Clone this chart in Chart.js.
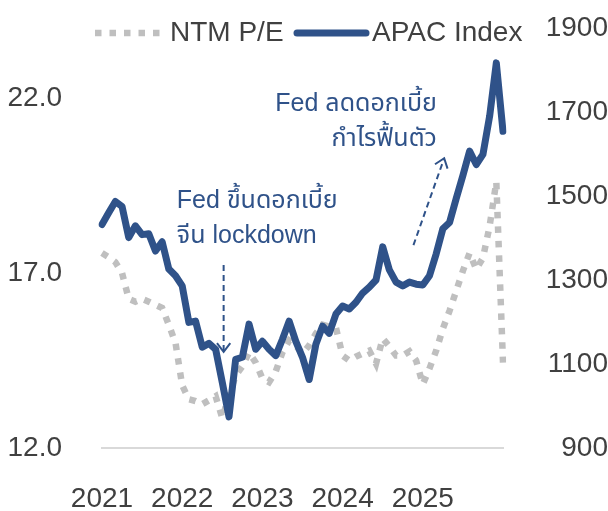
<!DOCTYPE html>
<html>
<head>
<meta charset="utf-8">
<script src="https://cdn.jsdelivr.net/npm/chart.js@4.4.1/dist/chart.umd.min.js"></script>
<style>
  html, body { margin: 0; padding: 0; background: #fff; }
  #wrap { width: 608px; height: 511px; position: relative; }
</style>
</head>
<body>
<div id="wrap"><canvas id="chart"></canvas></div>
<script>
// Monthly points, Jan 2021 .. Jan 2026
var years = [2021, 2022, 2023, 2024, 2025, 2026];
var yearTicks = ['2021', '2022', '2023', '2024', '2025'];
var months = [];
years.forEach(function(yr) {
    for (var m = 1; m <= 12; m++) {
        if (yr === 2026 && m > 1) break;
        months.push(yr + '-' + (m < 10 ? '0' + m : m));
    }
});

// NTM P/E (left axis)
var ntmPE = [17.57, 17.45, 17.31, 17.0, 16.26, 16.18, 16.26, 16.18, 16.09, 16.0, 15.52, 15.0,
             13.79, 13.39, 13.34, 13.25, 13.36, 13.48, 12.85, 13.5, 14.07, 14.33, 14.73, 14.44,
             13.99, 13.88, 14.19, 14.73, 15.07, 14.93, 14.70, 14.93, 15.27, 15.52, 15.47, 15.44,
             14.64, 14.5, 14.61, 14.70, 14.78, 14.41, 15.13, 14.90, 14.64, 14.64, 14.76, 14.5,
             13.82, 14.27, 14.78, 15.41, 15.92, 16.49, 17.06, 17.57, 17.11, 17.43, 18.34, 19.61,
             14.44];

// APAC Index (right axis)
var apacIndex = [1432, 1460, 1487, 1475, 1401, 1429, 1408, 1410, 1369, 1391, 1326, 1310,
                 1286, 1199, 1202, 1140, 1149, 1135, 1056, 974, 1111, 1116, 1195, 1135,
                 1154, 1135, 1120, 1159, 1202, 1154, 1116, 1063, 1147, 1190, 1173, 1219,
                 1238, 1231, 1247, 1269, 1283, 1300, 1379, 1324, 1295, 1286, 1295, 1290,
                 1288, 1310, 1362, 1422, 1437, 1494, 1549, 1607, 1575, 1599, 1690, 1817,
                 1654];

var leftTicks = [12, 17, 22];
var rightTicks = [900, 1100, 1300, 1500, 1700, 1900];

var BLUE = '#2F5289';
var GREY = '#BFBFBF';
var TEXT = '#404040';
var FONT = "'Liberation Sans', Arial, sans-serif";
var THAI_FONT = "'Liberation Sans', Arial, 'Noto Sans Thai', Tahoma, sans-serif";
var DOTS = [6.5, 8];

// notes: [index, apac value, text lines, align]
var notes = [
    { at: 11.2, val: 1488, lines: ['Fed ขึ้นดอกเบี้ย', 'จีน lockdown'], align: 'left' },
    { at: 50.1, val: 1719, lines: ['Fed ลดดอกเบี้ย', 'กำไรฟื้นตัว'], align: 'right' }
];
var arrows = [
    { from: [18.2, 1336], to: [18.2, 1129] },
    { from: [46.6, 1383], to: [51.2, 1590] }
];

function drawArrow(ctx, x0, y0, x1, y1) {
    ctx.save();
    ctx.strokeStyle = BLUE;
    ctx.lineWidth = 2;
    ctx.setLineDash([6, 4]);
    ctx.beginPath();
    ctx.moveTo(x0, y0);
    ctx.lineTo(x1, y1);
    ctx.stroke();
    ctx.setLineDash([]);
    var a = Math.atan2(y1 - y0, x1 - x0);
    var L = 11, w = 0.65;
    ctx.beginPath();
    ctx.moveTo(x1 - L * Math.cos(a - w), y1 - L * Math.sin(a - w));
    ctx.lineTo(x1, y1);
    ctx.lineTo(x1 - L * Math.cos(a + w), y1 - L * Math.sin(a + w));
    ctx.stroke();
    ctx.restore();
}

var overlay = {
    id: 'overlay',
    afterDraw: function(chart) {
        var ctx = chart.ctx;
        var xs = chart.scales.x, ys = chart.scales.y1;

        // legend
        ctx.save();
        ctx.lineWidth = 6.5;
        ctx.strokeStyle = GREY;
        ctx.setLineDash(DOTS);
        ctx.beginPath(); ctx.moveTo(95, 33); ctx.lineTo(161, 33); ctx.stroke();
        ctx.setLineDash([]);
        ctx.lineWidth = 7;
        ctx.strokeStyle = BLUE;
        ctx.lineCap = 'round';
        ctx.beginPath(); ctx.moveTo(297, 33); ctx.lineTo(366, 33); ctx.stroke();
        ctx.fillStyle = TEXT;
        ctx.font = '28px ' + FONT;
        ctx.textBaseline = 'middle';
        ctx.textAlign = 'left';
        ctx.fillText('NTM P/E', 170, 33);
        ctx.fillText('APAC Index', 372, 33);
        ctx.restore();

        // notes
        ctx.save();
        ctx.fillStyle = BLUE;
        ctx.font = '25px ' + THAI_FONT;
        ctx.textBaseline = 'middle';
        notes.forEach(function(n) {
            ctx.textAlign = n.align;
            var x = xs.getPixelForValue(n.at);
            var y = ys.getPixelForValue(n.val);
            n.lines.forEach(function(t, i) { ctx.fillText(t, x, y + i * 35); });
        });
        ctx.restore();

        arrows.forEach(function(a) {
            drawArrow(ctx,
                xs.getPixelForValue(a.from[0]), ys.getPixelForValue(a.from[1]),
                xs.getPixelForValue(a.to[0]), ys.getPixelForValue(a.to[1]));
        });
    }
};

function noPad(s) { s.paddingTop = 0; s.paddingBottom = 0; }

new Chart(document.getElementById('chart'), {
    type: 'line',
    data: {
        labels: months,
        datasets: [{
            label: 'NTM P/E',
            data: ntmPE,
            yAxisID: 'y',
            borderColor: GREY,
            borderWidth: 6.5,
            borderDash: DOTS,
            pointRadius: 0,
            tension: 0,
            order: 1
        }, {
            label: 'APAC Index',
            data: apacIndex,
            yAxisID: 'y1',
            borderColor: BLUE,
            borderWidth: 7,
            borderJoinStyle: 'round',
            borderCapStyle: 'round',
            pointRadius: 0,
            tension: 0,
            order: 0
        }]
    },
    options: {
        responsive: true,
        maintainAspectRatio: false,
        animation: false,
        layout: { padding: { top: 28, left: 0, right: 0, bottom: 0 } },
        plugins: { legend: { display: false }, tooltip: { enabled: false } },
        scales: {
            x: {
                grid: { display: false, drawTicks: false },
                border: { display: true, color: '#D9D9D9', width: 2 },
                ticks: {
                    autoSkip: false, maxRotation: 0, minRotation: 0,
                    padding: 34, color: TEXT, font: { family: FONT, size: 28 },
                    callback: function(v, i) {
                        return i % 12 === 0 ? yearTicks[i / 12] : '';
                    }
                },
                afterFit: function(s) { s.height = 63; }
            },
            y: {
                position: 'left',
                min: 12, max: 24,
                grid: { display: false, drawTicks: false },
                border: { display: false },
                afterBuildTicks: function(s) {
                    s.ticks = leftTicks.map(function(v) { return { value: v }; });
                },
                ticks: {
                    padding: 40, color: TEXT, font: { family: FONT, size: 28 },
                    callback: function(v) { return v.toFixed(1); }
                },
                afterFit: function(s) { s.width = 102; noPad(s); }
            },
            y1: {
                position: 'right',
                min: 900, max: 1900,
                grid: { display: false, drawTicks: false },
                border: { display: false },
                afterBuildTicks: function(s) {
                    s.ticks = rightTicks.map(function(v) { return { value: v }; });
                },
                ticks: {
                    padding: 38, crossAlign: 'far', color: TEXT,
                    font: { family: FONT, size: 28 },
                    callback: function(v) { return String(v); }
                },
                afterFit: function(s) { s.width = 105; noPad(s); }
            }
        }
    },
    plugins: [overlay]
});
</script>
</body>
</html>
